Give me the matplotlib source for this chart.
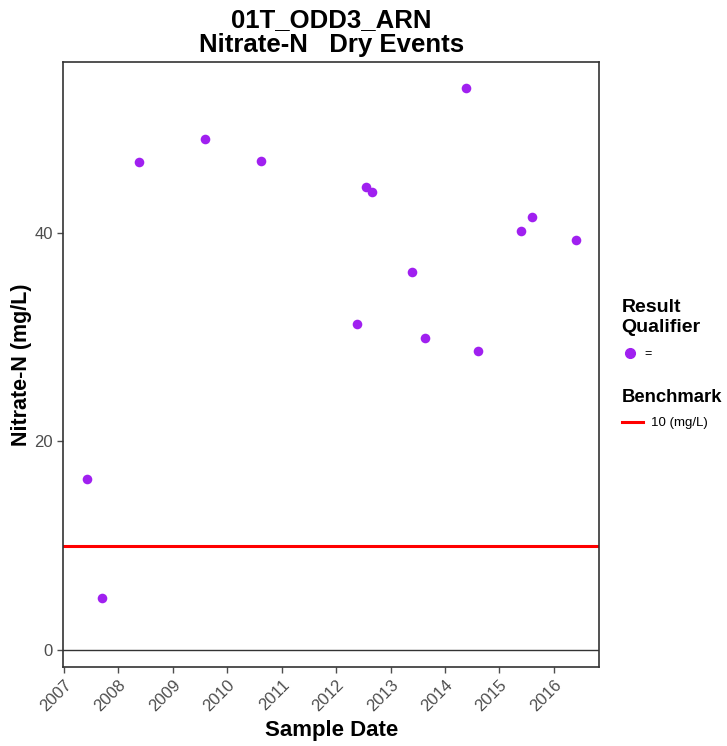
import numpy as np
import pandas as pd
from matplotlib import pyplot as plt
from matplotlib.lines import Line2D

# values
sample_dates = ["2007-06-03", "2007-09-14", "2008-05-20", "2009-08-05", "2010-08-15",
                "2012-05-22", "2012-07-20", "2012-08-28", "2013-05-27", "2013-08-22",
                "2014-05-22", "2014-08-12", "2015-05-27", "2015-08-08", "2016-05-30"]
nitrate = [16.4, 5.0, 46.8, 49.0, 46.9,
           31.3, 44.4, 43.9, 36.3, 29.9,
           53.9, 28.7, 40.2, 41.5, 39.3]
benchmark = 10
years = list(range(2007, 2017))

dates = pd.to_datetime(sample_dates)

plt.rcParams['font.family'] = ['Liberation Sans', 'DejaVu Sans']

fig = plt.figure(figsize=(7.27, 7.46), dpi=100)
ax = fig.add_axes([0.0871, 0.1059, 0.8244 - 0.0871, 0.9169 - 0.1059])

ax.axhline(0, color='#333333', lw=1.0, zorder=1)
ax.axhline(benchmark, color='red', lw=2.2, zorder=2)
ax.scatter(dates, nitrate, s=48, color='#A020F0', zorder=3, linewidths=0)

ax.set_xlim(pd.Timestamp("2006-12-28"), pd.Timestamp("2016-11-02"))
ax.set_ylim(-1.63, 56.4)
ax.set_yticks([0, 20, 40])
ax.set_xticks(pd.to_datetime([f"{y}-01-01" for y in years]))
ax.set_xticklabels([str(y) for y in years], rotation=45, ha='right', rotation_mode='anchor')

ax.tick_params(axis='both', colors='#4d4d4d', labelsize=12, length=4, width=1)
for s in ax.spines.values():
    s.set_color('#333333')
    s.set_linewidth(1.2)

ax.set_xlabel("Sample Date", fontsize=16, fontweight='bold', labelpad=4)
ax.set_ylabel("Nitrate-N (mg/L)", fontsize=15.5, fontweight='bold', labelpad=2)
ax.set_title("01T_ODD3_ARN\nNitrate-N   Dry Events", fontsize=18.5, fontweight='bold',
             linespacing=1.08, pad=7)

h1 = [Line2D([], [], marker='o', ls='', color='#A020F0', markersize=7)]
leg1 = fig.legend(h1, ['='], title="Result\nQualifier", loc='upper left',
                  bbox_to_anchor=(0.8395, 0.614), frameon=False, fontsize=9,
                  title_fontproperties={'weight': 'bold', 'size': 14},
                  handlelength=1.4, handletextpad=0.4, labelspacing=1.0)
leg1._legend_box.align = 'left'
h2 = [Line2D([], [], color='red', lw=2.2)]
leg2 = fig.legend(h2, ['10 (mg/L)'], title="Benchmark", loc='upper left',
                  bbox_to_anchor=(0.8395, 0.495), frameon=False, fontsize=9.5,
                  title_fontproperties={'weight': 'bold', 'size': 13.3},
                  handlelength=1.6, handletextpad=0.6, labelspacing=0.88)
leg2._legend_box.align = 'left'

fig.savefig("out.png", dpi=100)
